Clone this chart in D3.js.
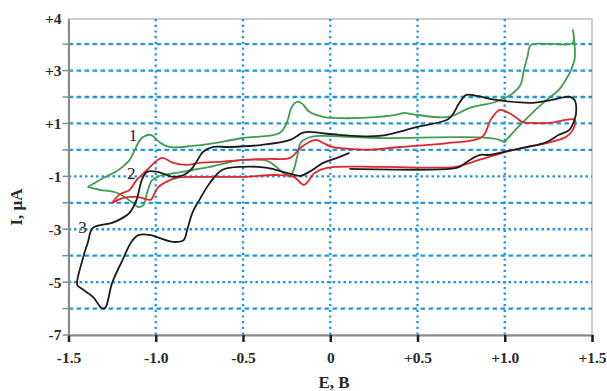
<!DOCTYPE html>
<html>
<head>
<meta charset="utf-8">
<script src="https://cdn.jsdelivr.net/npm/d3@7"></script>
<style>
  body { margin: 0; background: #fff; }
  text { font-family: "Liberation Serif", "Times New Roman", serif; }
</style>
</head>
<body>
<div class="canvas"></div>
<script>
// tick labels
const xTicks = [-1.5, -1.0, -0.5, 0, 0.5, 1.0, 1.5];
const xTickLabels = ['-1.5', '-1.0', '-0.5', '0', '+0.5', '+1.0', '+1.5'];
const yTicks = [4.95, 3, 1, -1, -3, -5, -7];
const yTickLabels = ['+4', '+3', '+1', '-1', '-3', '-5', '-7'];
const yGrid = [4, 3, 2, 1, 0, -1, -2, -3, -4, -5, -6];
const xGrid = [-1.0, -0.5, 0, 0.5, 1.0];

// curve 1 (green) [E, I]
const curve1 = [
  [-1.39,-1.40],[-1.35,-1.25],[-1.30,-1.06],[-1.23,-0.83],[-1.19,-0.64],[-1.15,-0.38],
  [-1.12,0],[-1.09,0.38],[-1.06,0.53],[-1.03,0.57],[-1.01,0.49],[-0.98,0.30],[-0.92,0.11],
  [-0.79,0.15],[-0.69,0.23],[-0.50,0.45],[-0.29,0.64],[-0.25,1.02],[-0.22,1.63],[-0.19,1.82],
  [-0.16,1.74],[-0.12,1.44],[-0.04,1.25],[0.01,1.21],[0.28,1.25],[0.40,1.36],[0.42,1.40],
  [0.50,1.32],[0.68,1.25],[0.80,1.59],[0.95,1.82],[1.05,2.16],[1.09,2.46],[1.11,3.03],
  [1.13,3.52],[1.15,3.97],[1.25,4.01],[1.39,4.05],[1.39,4.54],[1.40,4.01],[1.40,3.41],
  [1.38,3.03],[1.35,2.65],[1.31,2.27],[1.22,1.78],[1.10,1.02],[1.01,0.38],[1.00,0.30],
  [0.97,0.38],[0.87,0.47],[0.28,0.45],[0.11,0.49],[-0.06,0.53],[-0.13,0.45],[-0.17,0.26],
  [-0.19,-0.26],[-0.21,-0.76],[-0.23,-0.98],[-0.27,-0.87],[-0.31,-0.64],[-0.36,-0.42],
  [-0.50,-0.38],[-0.69,-0.64],[-0.79,-0.76],[-0.88,-0.87],[-0.96,-0.95],[-1.02,-1.14],
  [-1.05,-1.63],[-1.07,-2.08],[-1.10,-2.16],[-1.13,-2.01],[-1.22,-1.63],[-1.32,-1.51],[-1.39,-1.40]
];

// curve 2 (red)
const curve2 = [
  [-1.25,-2.01],[-1.21,-1.70],[-1.15,-1.51],[-1.11,-1.14],[-1.05,-0.76],[-0.99,-0.38],
  [-0.96,-0.30],[-0.90,-0.49],[-0.82,-0.57],[-0.75,-0.49],[-0.63,-0.45],[-0.50,-0.38],
  [-0.36,-0.34],[-0.23,-0.30],[-0.17,0.08],[-0.12,0.30],[-0.08,0.38],[-0.04,0.26],[0.01,0.11],
  [0.11,0.04],[0.21,0],[0.40,0.11],[0.67,0.26],[0.87,0.49],[0.92,1.14],[0.97,1.51],[1.01,1.44],
  [1.06,1.25],[1.10,1.06],[1.16,1.02],[1.26,1.02],[1.40,1.14],[1.39,0.76],[1.35,0.49],
  [1.24,0.26],[1.05,0],[0.91,-0.26],[0.82,-0.45],[0.72,-0.64],[0.28,-0.64],[-0.02,-0.68],
  [-0.09,-0.87],[-0.15,-1.32],[-0.21,-1.02],[-0.31,-0.95],[-0.50,-1.02],[-0.75,-1.02],
  [-0.88,-1.06],[-0.94,-1.21],[-0.99,-1.44],[-1.02,-1.82],[-1.03,-1.89],[-1.11,-1.78],
  [-1.19,-1.82],[-1.25,-2.01]
];

// curve 3 (black)
const curve3 = [
  [0.11,-0.11],[0.04,-0.30],[-0.04,-0.49],[-0.12,-0.83],[-0.17,-0.98],[-0.25,-0.87],
  [-0.36,-0.68],[-0.50,-0.64],[-0.62,-0.76],[-0.69,-1.25],[-0.75,-1.89],[-0.79,-2.38],
  [-0.82,-3.03],[-0.84,-3.41],[-0.90,-3.48],[-0.98,-3.33],[-1.03,-3.22],[-1.10,-3.22],
  [-1.14,-3.48],[-1.19,-4.16],[-1.25,-5.03],[-1.29,-5.98],[-1.31,-5.98],[-1.36,-5.56],
  [-1.43,-5.22],[-1.45,-5.11],[-1.42,-4.16],[-1.39,-3.52],[-1.36,-2.95],[-1.25,-2.76],
  [-1.19,-2.57],[-1.15,-2.38],[-1.11,-1.89],[-1.08,-1.14],[-1.05,-0.83],[-0.99,-0.83],
  [-0.90,-1.02],[-0.84,-0.95],[-0.80,-0.76],[-0.76,-0.38],[-0.73,-0.08],[-0.67,0.11],
  [-0.58,0.11],[-0.39,0.19],[-0.23,0.38],[-0.16,0.64],[-0.12,0.68],[-0.06,0.64],[0.05,0.57],
  [0.28,0.53],[0.50,0.87],[0.67,1.14],[0.70,1.32],[0.74,1.78],[0.78,2.08],[0.84,2.04],
  [0.95,1.89],[1.16,1.78],[1.27,1.89],[1.37,2.01],[1.40,1.89],[1.41,1.51],[1.40,1.14],
  [1.37,0.76],[1.31,0.57],[1.24,0.30],[1.13,0.11],[1.05,0],[0.99,-0.08],[0.91,-0.19],
  [0.86,-0.19],[0.80,-0.38],[0.74,-0.64],[0.68,-0.72],[0.11,-0.72]
];

const curves = [
  {name: '1', data: curve1, color: '#3d9e4f', label: [-1.13, 0.50]},
  {name: '2', data: curve2, color: '#e3262d', label: [-1.14, -0.95]},
  {name: '3', data: curve3, color: '#1c1c1c', label: [-1.42, -3.0]}
];

const width = 607, height = 391;
const margin = {top: 19, right: 15, bottom: 56, left: 68.5};
const graphWidth = width - margin.left - margin.right;
const graphHeight = height - margin.top - margin.bottom;

const svg = d3.select('.canvas')
  .append('svg')
    .attr('width', width)
    .attr('height', height);

const graph = svg.append('g')
  .attr('transform', `translate(${margin.left}, ${margin.top})`);

const x = d3.scaleLinear().domain([-1.5, 1.5]).range([0, graphWidth]);
const y = d3.scaleLinear().domain([-7, 4.95]).range([graphHeight, 0]);

// frame
graph.append('rect')
  .attr('width', graphWidth)
  .attr('height', graphHeight)
  .attr('fill', 'none')
  .attr('stroke', '#bdbdbd')
  .attr('stroke-width', 1.5);

// grid
graph.append('g').selectAll('line')
  .data(yGrid)
  .enter().append('line')
    .attr('x1', 0).attr('x2', graphWidth)
    .attr('y1', d => y(d)).attr('y2', d => y(d))
    .attr('stroke', '#1f97d6')
    .attr('stroke-width', 2.3)
    .attr('stroke-dasharray', d => (d === -3 || d === -5 || d === -1) ? '2.5,3' : '4.5,3.5');

graph.append('g').selectAll('line')
  .data(xGrid)
  .enter().append('line')
    .attr('x1', d => x(d)).attr('x2', d => x(d))
    .attr('y1', 0).attr('y2', graphHeight)
    .attr('stroke', '#1f97d6')
    .attr('stroke-width', 2.3)
    .attr('stroke-dasharray', '2.2,3.5');

// axes
const xAxis = d3.axisBottom(x)
  .tickValues(xTicks)
  .tickSize(7)
  .tickPadding(10)
  .tickFormat((d, i) => xTickLabels[i]);

const yAxis = d3.axisLeft(y)
  .tickValues(yTicks)
  .tickSize(0)
  .tickPadding(7)
  .tickFormat((d, i) => yTickLabels[i]);

const xAxisGroup = graph.append('g')
  .attr('transform', `translate(0, ${graphHeight})`)
  .call(xAxis);
xAxisGroup.select('.domain').attr('stroke', '#8a8a8a').attr('stroke-width', 2);
xAxisGroup.selectAll('.tick line').attr('stroke', '#222').attr('stroke-width', 2.5);
xAxisGroup.selectAll('text')
  .attr('font-size', 15.5)
  .attr('font-weight', 'bold')
  .attr('fill', '#2a2a2a');

const yAxisGroup = graph.append('g').call(yAxis);
yAxisGroup.select('.domain').attr('stroke', '#8a8a8a').attr('stroke-width', 2);
yAxisGroup.selectAll('text')
  .attr('font-size', 15.5)
  .attr('font-weight', 'bold')
  .attr('fill', '#2a2a2a');

// small ticks on left axis at each grid step
graph.append('g').selectAll('line')
  .data(yGrid.concat([-7]))
  .enter().append('line')
    .attr('x1', -6).attr('x2', 0)
    .attr('y1', d => y(d)).attr('y2', d => y(d))
    .attr('stroke', '#8a8a8a')
    .attr('stroke-width', 1.5);

// curves
const line = d3.line()
  .x(d => x(d[0]))
  .y(d => y(d[1]))
  .curve(d3.curveCatmullRom.alpha(0.5));

graph.selectAll('path.cv')
  .data(curves)
  .enter().append('path')
    .attr('class', 'cv')
    .attr('d', d => line(d.data))
    .attr('fill', 'none')
    .attr('stroke', d => d.color)
    .attr('stroke-width', 1.8);

graph.selectAll('text.lbl')
  .data(curves)
  .enter().append('text')
    .attr('class', 'lbl')
    .attr('x', d => x(d.label[0]))
    .attr('y', d => y(d.label[1]))
    .attr('text-anchor', 'middle')
    .attr('dominant-baseline', 'middle')
    .attr('font-size', 17)
    .attr('fill', '#222')
    .text(d => d.name);

// axis titles
svg.append('text')
  .attr('x', 334)
  .attr('y', 388)
  .attr('text-anchor', 'middle')
  .attr('font-size', 17)
  .attr('font-weight', 'bold')
  .attr('fill', '#2a2a2a')
  .text('E, B');

svg.append('text')
  .attr('transform', 'translate(22, 207) rotate(-90)')
  .attr('text-anchor', 'middle')
  .attr('font-size', 17)
  .attr('font-weight', 'bold')
  .attr('fill', '#2a2a2a')
  .text('I, μA');
</script>
</body>
</html>
